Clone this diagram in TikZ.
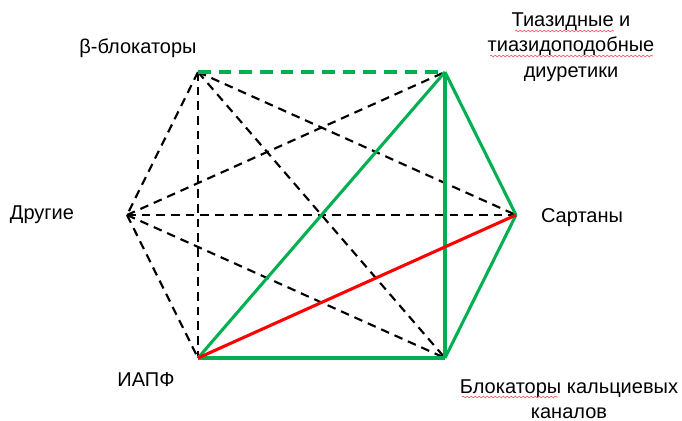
\documentclass[tikz,border=0pt]{standalone}
\usepackage{fontspec}
\setmainfont{Liberation Sans}
\usepackage{tikz}
\usetikzlibrary{decorations.pathmorphing}
\definecolor{Leaf}{HTML}{00B050}
\definecolor{Alarm}{HTML}{FF0000}
\definecolor{Squiggle}{HTML}{F06060}

\tikzset{
  lbl/.style={align=center,inner sep=0pt,font=\fontsize{15}{19}\selectfont},
  weak/.style={black,line width=1.6pt,dash pattern=on 6.5pt off 4.5pt},
  weakgreen/.style={Leaf,line width=2.3pt,dash pattern=on 9.5pt off 6pt},
  good/.style={Leaf,line width=2.3pt},
  bad/.style={Alarm,line width=2.3pt},
  spell/.style={Squiggle,line width=0.5pt,decorate,
    decoration={snake,segment length=3pt,amplitude=0.6pt}}
}

\begin{document}
\begin{tikzpicture}[x=0.75pt,y=-0.75pt]
  \useasboundingbox (0,0) rectangle (682,421);

  % vertices of the hexagon
  \coordinate (beta) at (198,72);
  \coordinate (tiaz) at (445,72);
  \coordinate (sart) at (516,215);
  \coordinate (bkk)  at (445,358);
  \coordinate (iapf) at (198,358);
  \coordinate (drug) at (127,215);

  % labels
  \node[lbl] (betaL) at (138,48) {β-блокаторы};
  \node[lbl] (tiazL) at (571,47) {Тиазидные и\\тиазидоподобные\\диуретики};
  \node[lbl] (sartL) at (582,218) {Сартаны};
  \node[lbl] (bkkL)  at (569,399) {Блокаторы кальциевых\\каналов};
  \node[lbl] (iapfL) at (146,380) {ИАПФ};
  \node[lbl] (drugL) at (42,215) {Другие};

  % dashed combinations
  \draw[weak] (beta) -- (drug);
  \draw[weak] (drug) -- (iapf);
  \draw[weak] (beta) -- (iapf);
  \draw[weak] (beta) -- (sart);
  \draw[weak] (beta) -- (bkk);
  \draw[weak] (drug) -- (tiaz);
  \draw[weak] (drug) -- (sart);
  \draw[weak] (drug) -- (bkk);
  \draw[weakgreen] (beta) -- (tiaz);

  % solid combinations
  \draw[good] (tiaz) -- (sart);
  \draw[good] (sart) -- (bkk);
  \draw[good] (tiaz) -- (bkk);
  \draw[good] (tiaz) -- (iapf);
  \draw[good] (iapf) -- (bkk);
  \draw[bad] (iapf) -- (sart);

  % spell-check marks
  \draw[spell] (515,31) -- (614,31);
  \draw[spell] (490,56) -- (653,56);
  \draw[spell] (462,397) -- (558,397);
\end{tikzpicture}
\end{document}
